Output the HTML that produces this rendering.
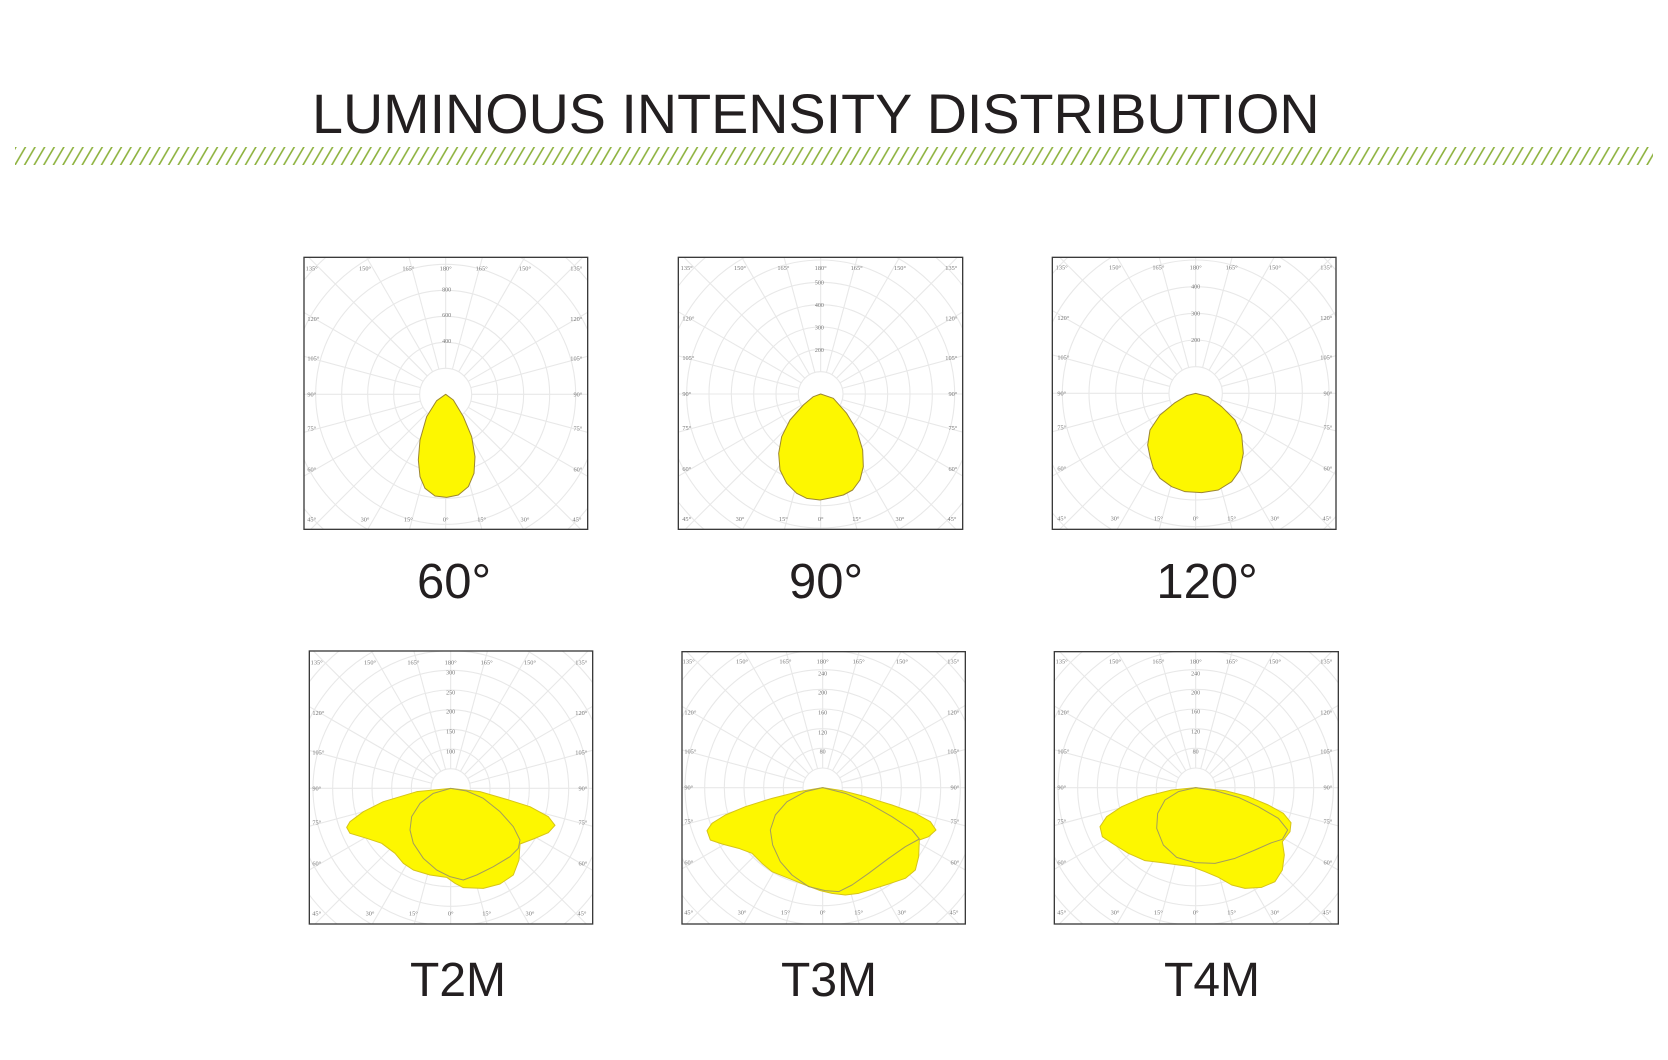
<!DOCTYPE html>
<html>
<head>
<meta charset="utf-8">
<style>
  html,body{margin:0;padding:0;background:#fff;}
  body{width:1668px;height:1060px;overflow:hidden;}
  svg{display:block;}
</style>
</head>
<body>
<svg width="1668" height="1060" viewBox="0 0 1668 1060" xmlns="http://www.w3.org/2000/svg">
  <defs>
    <pattern id="hatch" patternUnits="userSpaceOnUse" x="15" y="147" width="9.6" height="18">
      <g stroke="#8db23e" stroke-width="1.6" stroke-linecap="round">
        <line x1="0" y1="18" x2="10.5" y2="0"/>
        <line x1="-9.6" y1="18" x2="0.9" y2="0"/>
        <line x1="9.6" y1="18" x2="20.1" y2="0"/>
      </g>
    </pattern>
    <g id="grid" fill="none" stroke="#e8e8e8">
      <circle r="1"/><circle r="2"/><circle r="3"/><circle r="4"/><circle r="5"/><circle r="6"/>
      <circle r="7"/><circle r="8"/><circle r="9"/><circle r="10"/><circle r="11"/>
      <line x1="0" y1="1" x2="0" y2="14" transform="rotate(0)"/>
      <line x1="0" y1="1" x2="0" y2="14" transform="rotate(15)"/>
      <line x1="0" y1="1" x2="0" y2="14" transform="rotate(30)"/>
      <line x1="0" y1="1" x2="0" y2="14" transform="rotate(45)"/>
      <line x1="0" y1="1" x2="0" y2="14" transform="rotate(60)"/>
      <line x1="0" y1="1" x2="0" y2="14" transform="rotate(75)"/>
      <line x1="0" y1="1" x2="0" y2="14" transform="rotate(90)"/>
      <line x1="0" y1="1" x2="0" y2="14" transform="rotate(105)"/>
      <line x1="0" y1="1" x2="0" y2="14" transform="rotate(120)"/>
      <line x1="0" y1="1" x2="0" y2="14" transform="rotate(135)"/>
      <line x1="0" y1="1" x2="0" y2="14" transform="rotate(150)"/>
      <line x1="0" y1="1" x2="0" y2="14" transform="rotate(165)"/>
      <line x1="0" y1="1" x2="0" y2="14" transform="rotate(180)"/>
      <line x1="0" y1="1" x2="0" y2="14" transform="rotate(195)"/>
      <line x1="0" y1="1" x2="0" y2="14" transform="rotate(210)"/>
      <line x1="0" y1="1" x2="0" y2="14" transform="rotate(225)"/>
      <line x1="0" y1="1" x2="0" y2="14" transform="rotate(240)"/>
      <line x1="0" y1="1" x2="0" y2="14" transform="rotate(255)"/>
      <line x1="0" y1="1" x2="0" y2="14" transform="rotate(270)"/>
      <line x1="0" y1="1" x2="0" y2="14" transform="rotate(285)"/>
      <line x1="0" y1="1" x2="0" y2="14" transform="rotate(300)"/>
      <line x1="0" y1="1" x2="0" y2="14" transform="rotate(315)"/>
      <line x1="0" y1="1" x2="0" y2="14" transform="rotate(330)"/>
      <line x1="0" y1="1" x2="0" y2="14" transform="rotate(345)"/>
    </g>
    <g id="lab" font-family="Liberation Serif, serif" font-size="19" fill="#777">
      <g text-anchor="middle">
        <text x="-402" y="-372">135°</text>
        <text x="-242" y="-372">150°</text>
        <text x="-112" y="-372">165°</text>
        <text x="0" y="-372">180°</text>
        <text x="108" y="-372">165°</text>
        <text x="238" y="-372">150°</text>
        <text x="392" y="-372">135°</text>
        <text x="-402" y="381">45°</text>
        <text x="-242" y="381">30°</text>
        <text x="-112" y="381">15°</text>
        <text x="0" y="381">0°</text>
        <text x="108" y="381">15°</text>
        <text x="238" y="381">30°</text>
        <text x="394" y="381">45°</text>
      </g>
      <g text-anchor="start">
        <text x="-415" y="-220">120°</text>
        <text x="-415" y="-102">105°</text>
        <text x="-415" y="6">90°</text>
        <text x="-415" y="108">75°</text>
        <text x="-415" y="231">60°</text>
      </g>
      <g text-anchor="end">
        <text x="410" y="-220">120°</text>
        <text x="410" y="-102">105°</text>
        <text x="410" y="6">90°</text>
        <text x="410" y="108">75°</text>
        <text x="410" y="231">60°</text>
      </g>
    </g>
  </defs>

  <!-- Title -->
  <text x="312" y="133" font-family="Liberation Sans, Arial, sans-serif" font-size="55.7" fill="#231f20">LUMINOUS INTENSITY DISTRIBUTION</text>
  <rect x="15" y="147" width="1638" height="18" fill="url(#hatch)"/>

  <!-- Chart 1 : 60° -->
  <g transform="translate(290,240) scale(0.333333)">
    <clipPath id="c1"><rect x="42" y="52" width="851" height="816"/></clipPath>
    <rect x="42" y="52" width="851" height="816" fill="#fff"/>
    <g clip-path="url(#c1)">
      <use href="#grid" transform="translate(467,463) scale(78)" stroke-width="0.042"/>
      <path d="M467,463 L490,480 L520,530 L545,590 L555,650 L552,700 L535,740 L505,765 L470,772 L435,768 L405,745 L390,710 L385,660 L390,600 L410,530 L440,482 Z" fill="#fdf700" stroke="#9c8630" stroke-width="3" stroke-linejoin="round"/>
    </g>
    <use href="#lab" transform="translate(467,463)"/>
    <g font-family="Liberation Serif, serif" font-size="18" fill="#777" text-anchor="middle">
      <text x="470" y="309">400</text>
      <text x="470" y="231">600</text>
      <text x="470" y="154">800</text>
    </g>
    <rect x="42" y="52" width="851" height="816" fill="none" stroke="#3a3a3a" stroke-width="4"/>
  </g>

  <!-- Chart 2 : 90° -->
  <g transform="translate(670,250) scale(0.333333)">
    <clipPath id="c2"><rect x="25" y="22" width="853" height="816"/></clipPath>
    <rect x="25" y="22" width="853" height="816" fill="#fff"/>
    <g clip-path="url(#c2)">
      <use href="#grid" transform="translate(452,432) scale(67)" stroke-width="0.049"/>
      <path d="M452,432 L490,445 L530,490 L560,540 L578,600 L580,650 L570,690 L548,720 L520,735 L490,742 L450,750 L410,745 L380,730 L350,700 L330,660 L326,610 L335,560 L360,510 L400,465 L430,440 Z" fill="#fdf700" stroke="#9c8630" stroke-width="3" stroke-linejoin="round"/>
    </g>
    <use href="#lab" transform="translate(452,432)"/>
    <g font-family="Liberation Serif, serif" font-size="18" fill="#777" text-anchor="middle">
      <text x="448" y="306">200</text>
      <text x="448" y="239">300</text>
      <text x="448" y="171">400</text>
      <text x="448" y="103">500</text>
    </g>
    <rect x="25" y="22" width="853" height="816" fill="none" stroke="#3a3a3a" stroke-width="4"/>
  </g>

  <!-- Chart 3 : 120° -->
  <g transform="translate(1045,250) scale(0.333333)">
    <clipPath id="c3"><rect x="22" y="22" width="851" height="816"/></clipPath>
    <rect x="22" y="22" width="851" height="816" fill="#fff"/>
    <g clip-path="url(#c3)">
      <use href="#grid" transform="translate(452,430) scale(80)" stroke-width="0.041"/>
      <path d="M452,430 L490,440 L530,470 L570,510 L590,555 L595,610 L585,660 L560,695 L520,720 L470,728 L420,725 L380,710 L345,685 L325,655 L315,620 L308,585 L315,540 L345,495 L390,458 L425,437 Z" fill="#fdf700" stroke="#9c8630" stroke-width="3" stroke-linejoin="round"/>
    </g>
    <use href="#lab" transform="translate(452,430)"/>
    <g font-family="Liberation Serif, serif" font-size="18" fill="#777" text-anchor="middle">
      <text x="452" y="276">200</text>
      <text x="452" y="196">300</text>
      <text x="452" y="116">400</text>
    </g>
    <rect x="22" y="22" width="851" height="816" fill="none" stroke="#3a3a3a" stroke-width="4"/>
  </g>

  <!-- Chart 4 : T2M -->
  <g transform="translate(300,640) scale(0.333333)">
    <clipPath id="c4"><rect x="28" y="33" width="850" height="819"/></clipPath>
    <rect x="28" y="33" width="850" height="819" fill="#fff"/>
    <g clip-path="url(#c4)">
      <use href="#grid" transform="translate(452,445) scale(59)" stroke-width="0.056"/>
      <path d="M452,445 L350,455 L250,485 L190,515 L150,545 L140,562 L150,580 L200,595 L245,610 L285,640 L310,670 L340,690 L390,705 L440,712 L465,730 L490,743 L550,745 L600,732 L640,705 L657,660 L660,612 L700,597 L745,578 L765,556 L745,530 L690,500 L620,478 L540,455 Z" fill="#fdf700" stroke="#d6c418" stroke-width="3" stroke-linejoin="round"/>
      <path d="M452,445 L400,460 L360,490 L335,530 L330,570 L340,610 L370,655 L410,690 L450,710 L490,720 L530,705 L580,680 L630,650 L655,625 L660,600 L640,560 L600,515 L550,475 L500,453 Z" fill="none" stroke="#a39c5e" stroke-width="3" stroke-linejoin="round"/>
    </g>
    <use href="#lab" transform="translate(452,445)"/>
    <g font-family="Liberation Serif, serif" font-size="18" fill="#777" text-anchor="middle">
      <text x="452" y="341">100</text>
      <text x="452" y="281">150</text>
      <text x="452" y="221">200</text>
      <text x="452" y="164">250</text>
      <text x="452" y="104">300</text>
    </g>
    <rect x="28" y="33" width="850" height="819" fill="none" stroke="#3a3a3a" stroke-width="4"/>
  </g>

  <!-- Chart 5 : T3M -->
  <g transform="translate(672,640) scale(0.333333)">
    <clipPath id="c5"><rect x="30" y="35" width="850" height="817"/></clipPath>
    <rect x="30" y="35" width="850" height="817" fill="#fff"/>
    <g clip-path="url(#c5)">
      <use href="#grid" transform="translate(452,443) scale(59)" stroke-width="0.056"/>
      <path d="M452,443 L380,455 L300,475 L220,500 L160,525 L120,550 L105,572 L115,600 L150,612 L200,625 L240,640 L270,670 L300,695 L350,715 L400,735 L445,752 L480,760 L520,765 L560,760 L600,748 L650,732 L700,715 L730,690 L740,650 L742,600 L770,590 L792,570 L775,545 L730,520 L660,495 L580,470 L510,452 Z" fill="#fdf700" stroke="#d6c418" stroke-width="3" stroke-linejoin="round"/>
      <path d="M452,443 L400,455 L345,485 L310,525 L295,570 L302,615 L325,665 L360,705 L410,740 L460,752 L500,755 L540,735 L590,700 L650,655 L700,620 L742,597 L720,570 L660,530 L590,490 L520,460 Z" fill="none" stroke="#a39c5e" stroke-width="3" stroke-linejoin="round"/>
    </g>
    <use href="#lab" transform="translate(452,443)"/>
    <g font-family="Liberation Serif, serif" font-size="18" fill="#777" text-anchor="middle">
      <text x="452" y="341">80</text>
      <text x="452" y="283">120</text>
      <text x="452" y="224">160</text>
      <text x="452" y="164">200</text>
      <text x="452" y="106">240</text>
    </g>
    <rect x="30" y="35" width="850" height="817" fill="none" stroke="#3a3a3a" stroke-width="4"/>
  </g>

  <!-- Chart 6 : T4M -->
  <g transform="translate(1045,640) scale(0.333333)">
    <clipPath id="c6"><rect x="28" y="35" width="852" height="817"/></clipPath>
    <rect x="28" y="35" width="852" height="817" fill="#fff"/>
    <g clip-path="url(#c6)">
      <use href="#grid" transform="translate(452,443) scale(59)" stroke-width="0.056"/>
      <path d="M452,443 L380,450 L300,470 L230,500 L185,530 L165,560 L172,590 L205,612 L250,640 L300,662 L350,668 L400,675 L440,680 L480,695 L520,712 L560,735 L600,745 L650,742 L690,725 L712,690 L718,645 L712,605 L735,575 L738,548 L715,520 L670,495 L610,470 L540,452 Z" fill="#fdf700" stroke="#d6c418" stroke-width="3" stroke-linejoin="round"/>
      <path d="M452,443 L400,455 L360,480 L338,520 L335,565 L355,615 L395,652 L450,668 L510,670 L570,655 L630,630 L680,608 L712,598 L728,570 L700,535 L640,500 L580,472 L510,452 Z" fill="none" stroke="#a39c5e" stroke-width="3" stroke-linejoin="round"/>
    </g>
    <use href="#lab" transform="translate(452,443)"/>
    <g font-family="Liberation Serif, serif" font-size="18" fill="#777" text-anchor="middle">
      <text x="452" y="341">80</text>
      <text x="452" y="281">120</text>
      <text x="452" y="221">160</text>
      <text x="452" y="164">200</text>
      <text x="452" y="106">240</text>
    </g>
    <rect x="28" y="35" width="852" height="817" fill="none" stroke="#3a3a3a" stroke-width="4"/>
  </g>

  <!-- Captions -->
  <g font-family="Liberation Sans, Arial, sans-serif" fill="#231f20" text-anchor="middle">
    <text x="454" y="598" font-size="49">60°</text>
    <text x="826" y="598" font-size="49">90°</text>
    <text x="1207" y="598" font-size="49">120°</text>
    <text x="458" y="996" font-size="48">T2M</text>
    <text x="829" y="996" font-size="48">T3M</text>
    <text x="1212" y="996" font-size="48">T4M</text>
  </g>
</svg>
</body>
</html>
